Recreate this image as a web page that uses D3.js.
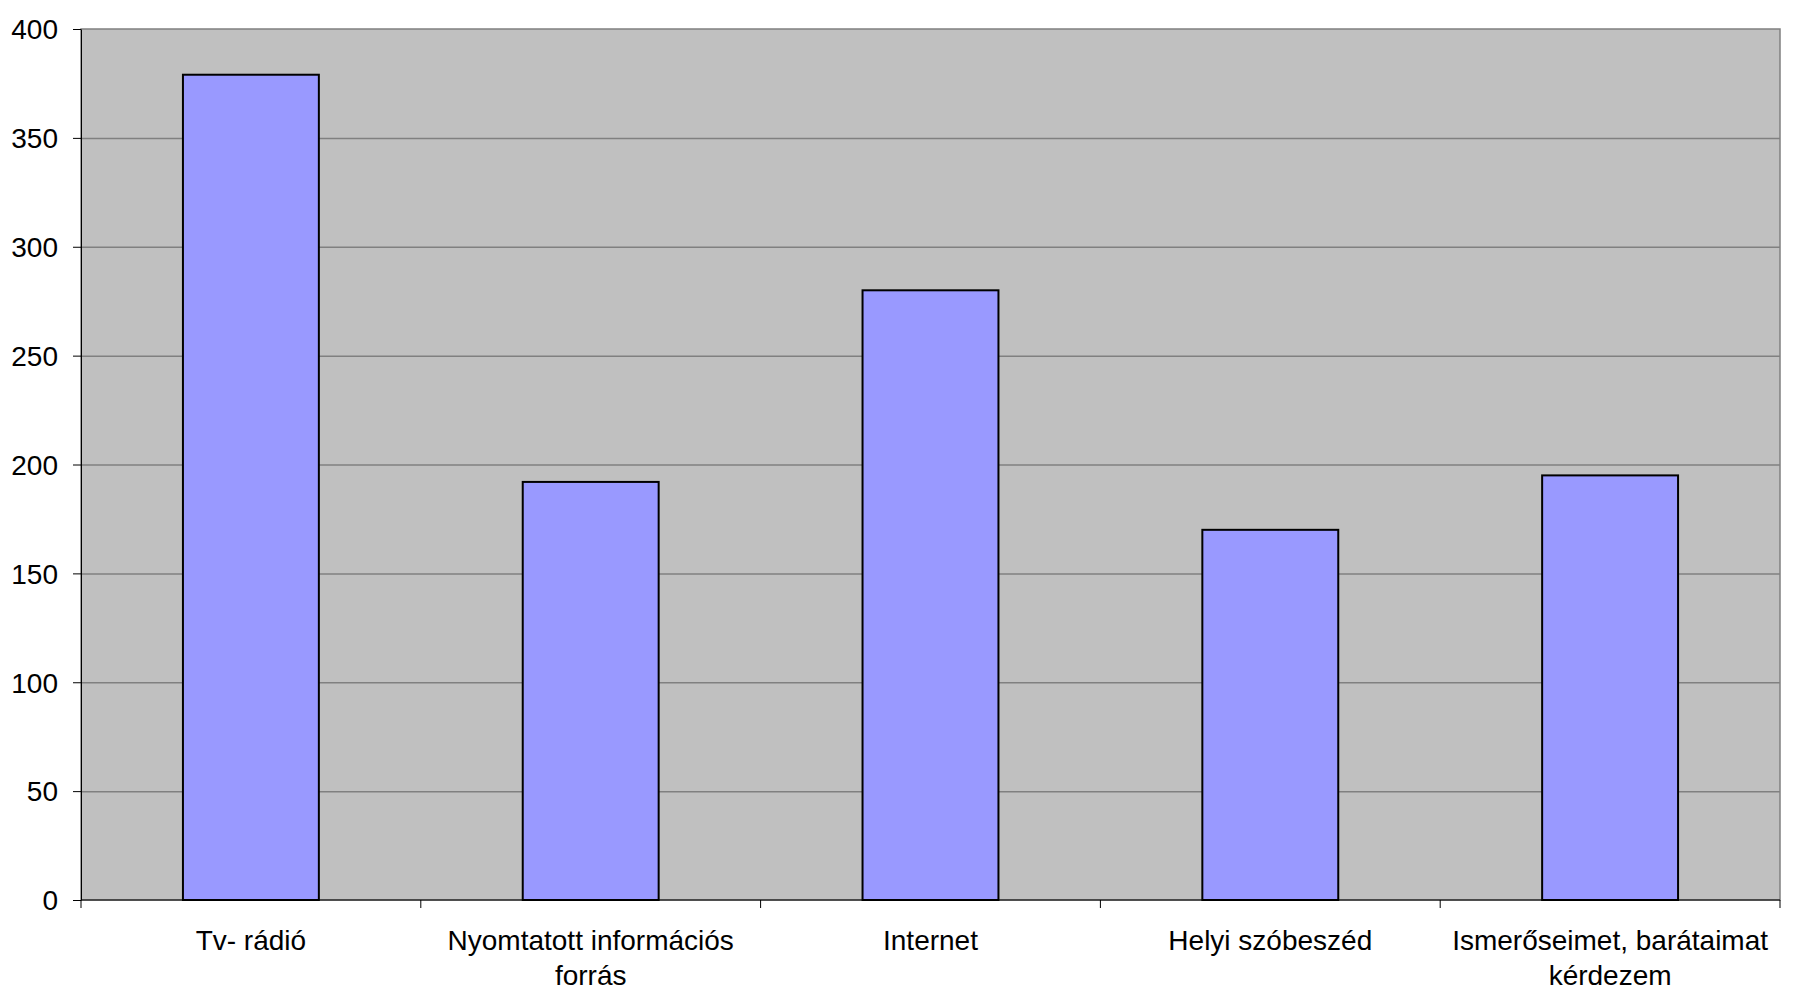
<!DOCTYPE html>
<html lang="hu">
<head>
<meta charset="utf-8">
<title>chart</title>
<script src="https://cdn.jsdelivr.net/npm/d3@7"></script>
<style>
  body { margin: 0; background: #fff; }
  svg text { font-family: "Liberation Sans", Arial, sans-serif; fill: #000; }
</style>
</head>
<body>
<svg width="1799" height="996"></svg>
<script>
// adatok
const categories = ["Tv- rádió", "Nyomtatott információs forrás", "Internet", "Helyi szóbeszéd", "Ismerőseimet, barátaimat kérdezem"];
const values = [379, 192, 280, 170, 195];
const yTicks = [0, 50, 100, 150, 200, 250, 300, 350, 400];

const mLeft = 81, mRight = 1780, mTop = 29, mBottom = 900;

const svg = d3.select("svg");

const x = d3.scaleBand()
  .domain(categories)
  .range([mLeft, mRight])
  .paddingInner(0.6)
  .paddingOuter(0.3);

const y = d3.scaleLinear()
  .domain([0, 400])
  .range([mBottom, mTop]);

// plot area
svg.append("rect")
  .attr("x", mLeft).attr("y", mTop)
  .attr("width", mRight - mLeft).attr("height", mBottom - mTop)
  .attr("fill", "#c0c0c0")
  .attr("stroke", "#808080")
  .attr("stroke-width", 1.5);

// gridlines
svg.append("g")
  .selectAll("line")
  .data(yTicks.filter(d => d > 0 && d < 400))
  .enter().append("line")
    .attr("x1", mLeft).attr("x2", mRight)
    .attr("y1", d => y(d) + 0.5).attr("y2", d => y(d) + 0.5)
    .attr("stroke", "#808080")
    .attr("stroke-width", 1.5);

// bars
svg.append("g")
  .selectAll("rect")
  .data(values)
  .enter().append("rect")
    .attr("x", (d, i) => x(categories[i]))
    .attr("y", d => y(d))
    .attr("width", x.bandwidth())
    .attr("height", d => mBottom - y(d))
    .attr("fill", "#9999ff")
    .attr("stroke", "#000")
    .attr("stroke-width", 2);

// y axis
const yAxis = svg.append("g")
  .attr("transform", "translate(" + mLeft + ",0)")
  .call(d3.axisLeft(y).tickValues(yTicks).tickSize(8).tickPadding(15).tickSizeOuter(0));
yAxis.select(".domain").attr("stroke", "#000");
yAxis.selectAll(".tick line").attr("stroke", "#000");
yAxis.selectAll("text").style("font-size", "28px").attr("dy", "0.35em");

// x axis: ticks at category boundaries
const step = x.step();
const xAxisG = svg.append("g");
xAxisG.append("line")
  .attr("x1", mLeft).attr("x2", mRight)
  .attr("y1", mBottom).attr("y2", mBottom)
  .attr("stroke", "#000");
xAxisG.selectAll(".xtick")
  .data(d3.range(categories.length + 1))
  .enter().append("line")
    .attr("x1", i => mLeft + i * step).attr("x2", i => mLeft + i * step)
    .attr("y1", mBottom).attr("y2", mBottom + 8)
    .attr("stroke", "#000");

const labels = xAxisG.selectAll(".xlabel")
  .data(categories)
  .enter().append("text")
    .attr("text-anchor", "middle")
    .style("font-size", "28px")
    .attr("x", d => x(d) + x.bandwidth() / 2)
    .attr("y", 950);

// sortörés
labels.each(function(d) {
  const t = d3.select(this);
  const words = d.split(" ");
  let line = [];
  let tspan = t.append("tspan").attr("x", t.attr("x")).attr("dy", 0);
  words.forEach(w => {
    line.push(w);
    tspan.text(line.join(" "));
    if (tspan.node().getComputedTextLength() > step - 8 && line.length > 1) {
      line.pop();
      tspan.text(line.join(" "));
      line = [w];
      tspan = t.append("tspan").attr("x", t.attr("x")).attr("dy", 35).text(w);
    }
  });
});
</script>
</body>
</html>
